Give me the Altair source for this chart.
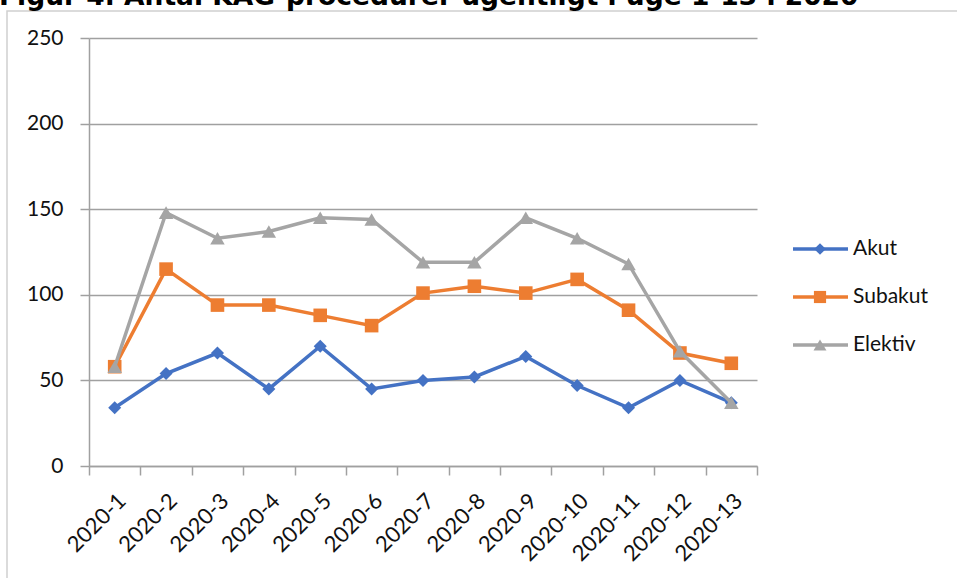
import altair as alt
import pandas as pd

# Weekly counts of KAG procedures by priority, weeks 1-13 of 2020
weeks = ["2020-1", "2020-2", "2020-3", "2020-4", "2020-5", "2020-6", "2020-7",
         "2020-8", "2020-9", "2020-10", "2020-11", "2020-12", "2020-13"]
akut = [34, 54, 66, 45, 70, 45, 50, 52, 64, 47, 34, 50, 37]
subakut = [58, 115, 94, 94, 88, 82, 101, 105, 101, 109, 91, 66, 60]
elektiv = [58, 148, 133, 137, 145, 144, 119, 119, 145, 133, 118, 67, 37]

series_names = ["Akut", "Subakut", "Elektiv"]
series_values = [akut, subakut, elektiv]
series_colors = ["#4472C4", "#ED7D31", "#A5A5A5"]
series_shapes = ["diamond", "square", "triangle-up"]
series_sizes = [170, 185, 210]

y_ticks = [0, 50, 100, 150, 200, 250]
title_text = "Figur 4. Antal KAG-procedurer ugentligt i uge 1-13 i 2020"

FONT = "Lato"
GRID = "#A0A0A0"
W, H = 668, 428
PAD = {"left": 89, "top": 38, "right": 200, "bottom": 112}

rows = []
for name, vals in zip(series_names, series_values):
    for w, v in zip(weeks, vals):
        rows.append({"uge": w, "serie": name, "antal": v})
df = pd.DataFrame(rows)
one = pd.DataFrame({"k": [0]})

x_enc = alt.X(
    "uge:N", sort=weeks,
    scale=alt.Scale(type="band", paddingInner=0, paddingOuter=0),
    axis=alt.Axis(title=None, labelAngle=-45, tickBand="extent", grid=False,
                  domainColor=GRID, tickColor=GRID, tickSize=9, domainWidth=1.5,
                  tickWidth=1.5, labelFont=FONT, labelFontSize=22,
                  labelColor="#111111", labelPadding=15),
)
y_enc = alt.Y(
    "antal:Q",
    scale=alt.Scale(domain=[0, 250], nice=False),
    axis=alt.Axis(title=None, values=y_ticks, grid=True, gridColor=GRID,
                  gridWidth=1.5, domainColor=GRID, tickColor=GRID, tickSize=9,
                  domainWidth=1.5, tickWidth=1.5, labelFont=FONT,
                  labelFontSize=21, labelColor="#111111", labelPadding=17),
)

# outer frame of the figure
frame = alt.Chart(one).mark_rect(fill=None, stroke="#D0D0D0", strokeWidth=1.5).encode(
    x=alt.value(7 - PAD["left"]), x2=alt.value(957 + 20 - PAD["left"]),
    y=alt.value(11 - PAD["top"]), y2=alt.value(578 + 20 - PAD["top"]),
)

layers = [frame]
for name, color, shape, size in zip(series_names, series_colors, series_shapes, series_sizes):
    base = alt.Chart(df).transform_filter(alt.datum.serie == name)
    layers.append(base.mark_line(color=color, strokeWidth=3.5).encode(x=x_enc, y=y_enc))
    layers.append(base.mark_point(color=color, shape=shape, size=size, filled=True,
                                  opacity=1).encode(x=x_enc, y=y_enc))

# legend: line sample with marker plus label
for i, (name, color, shape, size) in enumerate(zip(series_names, series_colors,
                                                    series_shapes, series_sizes)):
    yy = 249 + 48 * i - PAD["top"]
    leg = alt.Chart(one)
    layers.append(leg.mark_rule(color=color, strokeWidth=3.5).encode(
        x=alt.value(793 - PAD["left"]), x2=alt.value(848 - PAD["left"]), y=alt.value(yy)))
    layers.append(leg.mark_point(color=color, shape=shape, size=size * 0.8, filled=True,
                                 opacity=1).encode(
        x=alt.value(820 - PAD["left"]), y=alt.value(yy)))
    layers.append(leg.mark_text(text=name, font=FONT, fontSize=21, color="#111111",
                                align="left", baseline="middle").encode(
        x=alt.value(853 - PAD["left"]), y=alt.value(yy)))

title = alt.Chart(one).mark_text(
    text=title_text, font="DejaVu Sans", fontWeight="bold", fontSize=26.5,
    color="#000000", align="left", baseline="alphabetic",
).encode(x=alt.value(-1 - PAD["left"]), y=alt.value(5 - PAD["top"]))
layers.append(title)

chart = alt.layer(*layers).properties(
    width=W, height=H,
    autosize=alt.AutoSizeParams(type="none"),
    padding=PAD,
    background="white",
).configure_view(stroke=None)

chart.save("out.html", embed_options={"renderer": "svg", "actions": False})
